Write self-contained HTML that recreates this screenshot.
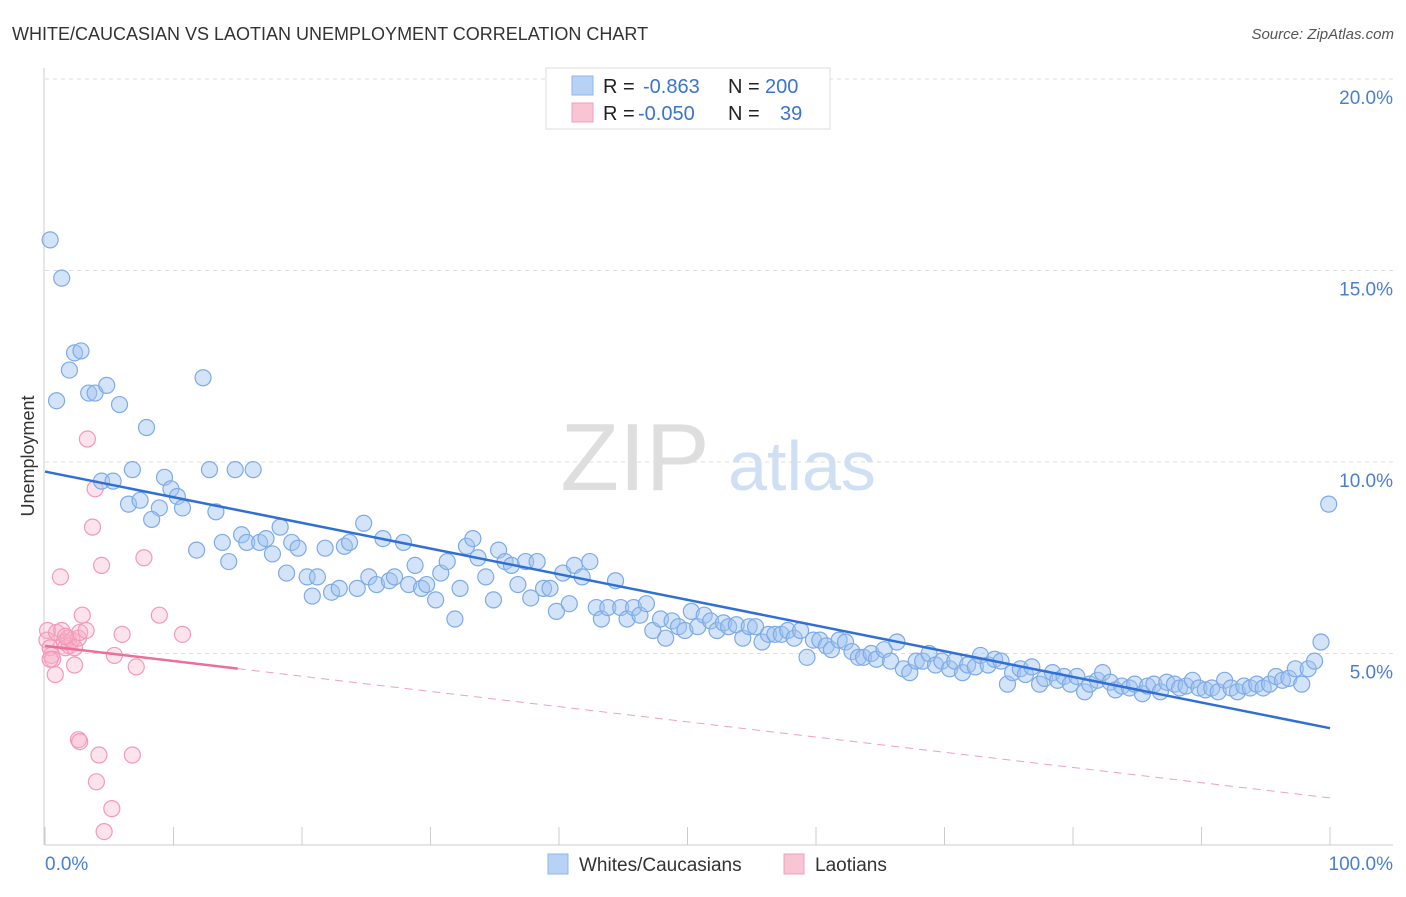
<!DOCTYPE html>
<html><head><meta charset="utf-8"><style>
body{margin:0;background:#fff;font-family:"Liberation Sans",sans-serif;}
svg text{font-family:"Liberation Sans",sans-serif;}
</style></head><body>
<svg id="chart" width="1406" height="892" xmlns="http://www.w3.org/2000/svg">
<text x="12" y="40" font-size="18" fill="#333">WHITE/CAUCASIAN VS LAOTIAN UNEMPLOYMENT CORRELATION CHART</text>
<text x="1394" y="39" font-size="15" fill="#555" font-style="italic" text-anchor="end">Source: ZipAtlas.com</text>
<g>
<text x="635" y="490" font-size="96" fill="#dedede" font-family="Liberation Serif" text-anchor="middle">ZIP</text>
<text x="802" y="490" font-size="70" fill="#cfdff4" text-anchor="middle">atlas</text>
</g>
<g id="grid"></g>
<g id="axes"></g>
<g id="marks"></g>
<text transform="translate(34,456) rotate(-90)" font-size="18" fill="#333" text-anchor="middle">Unemployment</text>
<g>
<rect x="546" y="68" width="284" height="61" fill="#fff" stroke="#ddd"/>
<rect x="572" y="76" width="21" height="19" fill="#b7d2f5" stroke="#8db5ea"/>
<rect x="572" y="103" width="21" height="19" fill="#f9c5d5" stroke="#f0a0ba"/>
<text x="603" y="93" font-size="20" fill="#222">R = </text><text x="643" y="93" font-size="20" fill="#3a73d0">-0.863</text>
<text x="728" y="93" font-size="20" fill="#222">N = </text><text x="765" y="93" font-size="20" fill="#3a73d0">200</text>
<text x="603" y="120" font-size="20" fill="#222">R = </text><text x="638" y="120" font-size="20" fill="#3a73d0">-0.050</text>
<text x="728" y="120" font-size="20" fill="#222">N = </text><text x="780" y="120" font-size="20" fill="#3a73d0">39</text>
</g>
<g>
<rect x="548" y="854" width="20" height="20" fill="#b7d2f5" stroke="#8db5ea"/>
<text x="579" y="871" font-size="19" fill="#333">Whites/Caucasians</text>
<rect x="784" y="854" width="20" height="20" fill="#f9c5d5" stroke="#f0a0ba"/>
<text x="815" y="871" font-size="19" fill="#333">Laotians</text>
</g>
</svg>
<script>
const yTicks=[5,10,15,20];
const yTickLabels=["5.0%","10.0%","15.0%","20.0%"];
const xTickCount=10;
const blueX=[0.4,1.3,2.3,2.8,1.9,0.9,3.4,3.9,4.8,5.8,7.9,12.3,6.8,4.4,5.3,9.3,9.8,6.5,7.4,10.3,8.9,10.7,13.3,8.3,12.8,14.8,16.2,11.8,13.8,14.3,15.3,15.7,16.7,17.2,17.7,18.3,19.2,19.7,18.8,20.4,21.2,20.8,21.8,22.3,22.9,23.3,23.7,24.3,24.8,25.2,25.8,26.3,26.8,27.2,27.9,28.3,28.8,29.3,29.7,30.4,30.8,31.3,31.9,32.3,32.8,33.3,33.7,34.3,34.9,35.3,35.8,36.3,36.8,37.4,37.8,38.3,38.8,39.3,39.8,40.3,40.8,41.2,41.8,42.4,42.9,43.3,43.8,44.4,44.8,45.3,45.8,46.3,46.8,47.3,47.9,48.3,48.8,49.3,49.8,50.3,50.8,51.3,51.8,52.3,52.8,53.2,53.8,54.3,54.8,55.3,55.8,56.3,56.8,57.3,57.8,58.3,58.8,59.3,59.8,60.3,60.8,61.2,61.8,62.3,62.8,63.3,63.7,64.3,64.7,65.3,65.8,66.3,66.8,67.3,67.8,68.3,68.8,69.3,69.8,70.4,70.8,71.4,71.8,72.4,72.8,73.4,73.9,74.4,74.9,75.3,75.9,76.3,76.8,77.4,77.8,78.4,78.8,79.3,79.8,80.3,80.9,81.3,81.9,82.3,82.9,83.3,83.8,84.4,84.8,85.4,85.8,86.3,86.8,87.3,87.9,88.3,88.8,89.3,89.8,90.3,90.8,91.3,91.8,92.3,92.8,93.3,93.8,94.3,94.8,95.3,95.8,96.3,96.8,97.3,97.8,98.3,98.8,99.3,99.9];
const blueY=[15.8,14.8,12.85,12.9,12.4,11.6,11.8,11.8,12.0,11.5,10.9,12.2,9.8,9.5,9.5,9.6,9.3,8.9,9.0,9.1,8.8,8.8,8.7,8.5,9.8,9.8,9.8,7.7,7.9,7.4,8.1,7.9,7.9,8.0,7.6,8.3,7.9,7.75,7.1,7.0,7.0,6.5,7.75,6.6,6.7,7.8,7.9,6.7,8.4,7.0,6.8,8.0,6.9,7.0,7.9,6.8,7.3,6.7,6.8,6.4,7.1,7.4,5.9,6.7,7.8,8.0,7.5,7.0,6.4,7.7,7.4,7.3,6.8,7.4,6.45,7.4,6.7,6.7,6.1,7.1,6.3,7.3,7.0,7.4,6.2,5.9,6.2,6.9,6.2,5.9,6.2,6.0,6.3,5.6,5.9,5.4,5.85,5.7,5.6,6.1,5.7,6.0,5.85,5.6,5.8,5.7,5.75,5.4,5.7,5.7,5.3,5.5,5.5,5.5,5.6,5.4,5.6,4.9,5.35,5.35,5.2,5.1,5.35,5.3,5.05,4.9,4.9,5.0,4.85,5.1,4.8,5.3,4.6,4.5,4.8,4.8,5.0,4.7,4.8,4.6,4.8,4.5,4.7,4.65,4.95,4.7,4.85,4.8,4.2,4.5,4.6,4.45,4.65,4.2,4.35,4.5,4.3,4.4,4.2,4.4,4.0,4.2,4.3,4.5,4.25,4.05,4.15,4.1,4.2,3.95,4.15,4.2,4.0,4.25,4.2,4.1,4.15,4.3,4.1,4.05,4.1,4.0,4.3,4.1,4.0,4.15,4.1,4.2,4.1,4.2,4.4,4.3,4.35,4.6,4.2,4.6,4.8,5.3,8.9];
const pinkX=[0.2,0.15,0.4,0.5,0.6,0.8,0.9,1.2,1.3,1.5,1.6,1.8,1.9,2.1,2.3,2.3,2.6,2.7,2.9,3.2,3.3,3.9,3.7,4.4,2.6,2.7,4.2,4.0,5.2,4.6,6.0,5.4,7.1,6.8,7.7,8.9,10.7,0.4,1.6];
const pinkY=[5.6,5.35,5.15,4.95,4.85,4.45,5.55,7.0,5.6,5.3,5.15,5.4,5.2,5.35,5.15,4.7,5.4,5.55,6.0,5.6,10.6,9.3,8.3,7.3,2.75,2.7,2.35,1.65,0.95,0.35,5.5,4.95,4.65,2.35,7.5,6.0,5.5,4.85,5.45];
const blueTrend=[9.75,3.05];
const pinkTrend=[5.2,1.23];
const pinkSolidEnd=15;

const NS="http://www.w3.org/2000/svg";
const X0=45,X1=1330,YB=845,YPER=38.3;
const sx=v=>X0+(X1-X0)*v/100;
const sy=v=>YB-v*YPER;
function mk(tag,attrs,parent){const e=document.createElementNS(NS,tag);for(const k in attrs)e.setAttribute(k,attrs[k]);parent.appendChild(e);return e;}
const grid=document.getElementById('grid'),axes=document.getElementById('axes'),marks=document.getElementById('marks');
yTicks.forEach((t,i)=>{
  const l=mk('line',{x1:45,x2:1393,y1:sy(t),y2:sy(t),stroke:'#ddd','stroke-dasharray':'4,4'},grid);
  
  
  const tx=mk('text',{x:1393,y:sy(t)+25,'font-size':19,fill:'#4a7fd0','text-anchor':'end'},axes);
  tx.textContent=yTickLabels[i];
  
  
});
const ya=mk('line',{x1:44,x2:44,y1:68,y2:YB,stroke:'#ccc'},axes);


const xa=mk('line',{x1:45,x2:1393,y1:YB,y2:YB,stroke:'#ccc'},axes);


for(let i=0;i<=xTickCount;i++){
  const t=mk('line',{x1:sx(i*10),x2:sx(i*10),y1:YB,y2:YB-18,stroke:'#ccc'},axes);
  
  
}
const xl0=mk('text',{x:45,y:870,'font-size':19,fill:'#4a7fd0'},axes);xl0.textContent='0.0%';


const xl1=mk('text',{x:1393,y:870,'font-size':19,fill:'#4a7fd0','text-anchor':'end'},axes);xl1.textContent='100.0%';


pinkX.forEach((x,i)=>{
  const c=mk('circle',{cx:sx(x),cy:sy(pinkY[i]),r:8,fill:'rgba(248,175,200,0.35)',stroke:'#f29ab7','stroke-width':1.2},marks);
  
  
});
blueX.forEach((x,i)=>{
  const c=mk('circle',{cx:sx(x),cy:sy(blueY[i]),r:8,fill:'rgba(160,195,240,0.45)',stroke:'#7eaae6','stroke-width':1.2},marks);
  
  
});
const bt=mk('line',{x1:sx(0),y1:sy(blueTrend[0]),x2:sx(100),y2:sy(blueTrend[1]),stroke:'#2f6fd6','stroke-width':2.5},marks);


const pAt=x=>pinkTrend[0]+(pinkTrend[1]-pinkTrend[0])*x/100;
const pt=mk('line',{x1:sx(0),y1:sy(pinkTrend[0]),x2:sx(pinkSolidEnd),y2:sy(pAt(pinkSolidEnd)),stroke:'#ec6f98','stroke-width':2.5},marks);


const pd=mk('line',{x1:sx(pinkSolidEnd),y1:sy(pAt(pinkSolidEnd)),x2:sx(100),y2:sy(pinkTrend[1]),stroke:'#f0a0bb','stroke-width':1,'stroke-dasharray':'8,6'},marks);


</script>
</body></html>
